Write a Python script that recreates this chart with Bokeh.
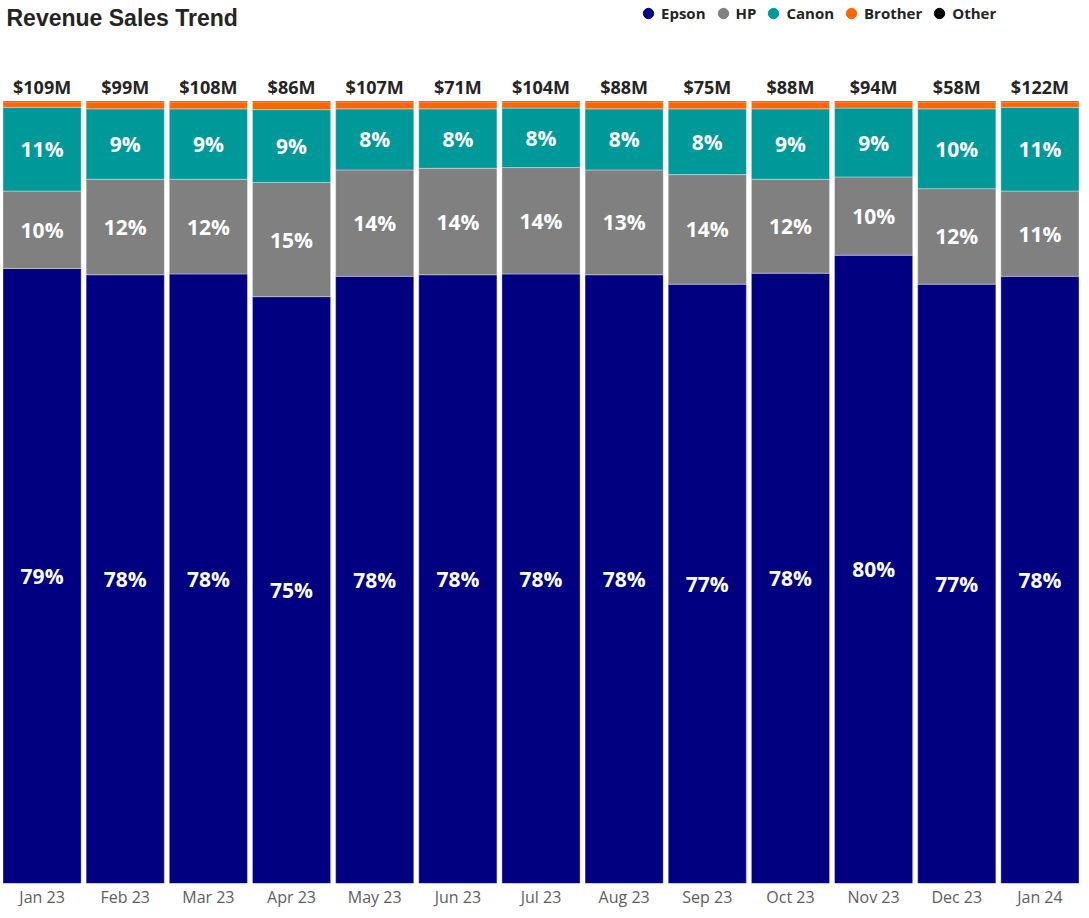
from bokeh.plotting import figure
from bokeh.models import ColumnDataSource, FactorRange, Range1d, Label, Legend, LegendItem
from bokeh.core.properties import value
from bokeh.embed import file_html
from bokeh.resources import INLINE

months = ["Jan 23", "Feb 23", "Mar 23", "Apr 23", "May 23", "Jun 23", "Jul 23",
          "Aug 23", "Sep 23", "Oct 23", "Nov 23", "Dec 23", "Jan 24"]
brands = ["Epson", "HP", "Canon", "Brother", "Other"]
epson = [78.6, 77.8, 77.9, 75.0, 77.6, 77.8, 77.9, 77.8, 76.6, 78.0, 80.3, 76.6, 77.6]
hp = [9.9, 12.2, 12.1, 14.6, 13.6, 13.6, 13.6, 13.4, 14.0, 12.0, 10.0, 12.2, 10.9]
canon = [10.7, 9.0, 9.0, 9.3, 7.8, 7.6, 7.6, 7.8, 8.4, 9.0, 8.8, 10.2, 10.7]
brother = [0.7, 0.9, 0.9, 1.0, 0.9, 0.9, 0.8, 0.9, 0.9, 0.9, 0.8, 0.9, 0.7]
other = [0.1, 0.1, 0.1, 0.1, 0.1, 0.1, 0.1, 0.1, 0.1, 0.1, 0.1, 0.1, 0.1]
totals = [109, 99, 108, 86, 107, 71, 104, 88, 75, 88, 94, 58, 122]
colors = ["#000080", "#808080", "#009999", "#FF6600", "#000000"]

W, H = 1081, 910
YEND = 112.85
p = figure(x_range=FactorRange(*months, range_padding=0), y_range=Range1d(0, YEND),
           width=W, height=H, output_backend="svg", toolbar_location=None,
           min_border_left=0, min_border_right=0, min_border_top=0, min_border_bottom=0)

src = ColumnDataSource(dict(month=months, Epson=epson, HP=hp, Canon=canon,
                            Brother=brother, Other=other))
p.vbar_stack(brands, x="month", width=0.94, color=colors, source=src,
             line_color="white", line_width=0.5, line_alpha=0.7)

# percentage labels
series = [epson, hp, canon]
lx, ly, lt = [], [], []
for i, m in enumerate(months):
    base = 0.0
    for s in series:
        lx.append(m)
        ly.append(base + s[i] / 2)
        lt.append(f"{round(s[i])}%")
        base += s[i]
p.text(x=lx, y=ly, text=lt, text_color="white", text_align="center",
       text_baseline="middle", text_font=value("Open Sans"), text_font_style="bold",
       text_font_size="21px")

# total labels
p.text(x=months, y=[101.8] * len(months), text=[f"${t}M" for t in totals],
       text_color="#252423", text_align="center", text_baseline="middle",
       text_font=value("Open Sans"), text_font_style="bold", text_font_size="18px")

# title
p.add_layout(Label(x=6, y=110.6, x_units="screen", y_units="data",
                   text="Revenue Sales Trend", text_font="Liberation Sans",
                   text_font_style="bold", text_font_size="23px", text_color="#252423",
                   text_baseline="alphabetic"))

# legend (marker renderers placed below the visible range)
items = []
for b, c in zip(brands, colors):
    r = p.scatter(x=[months[0]], y=[-50], marker="circle", size=10, color=c)
    items.append(LegendItem(label=b, renderers=[r]))
legend = Legend(items=items, orientation="horizontal", location=(635, 857),
                padding=0, margin=0, spacing=4, glyph_width=26, glyph_height=26,
                label_standoff=0, label_text_font="Open Sans", label_text_font_style="bold",
                label_text_font_size="15px", label_text_color="#252423",
                background_fill_alpha=0, border_line_alpha=0, label_height=20)
p.add_layout(legend)

p.yaxis.visible = False
p.xgrid.visible = False
p.ygrid.visible = False
p.outline_line_color = None
p.xaxis.axis_line_color = None
p.xaxis.major_tick_line_color = None
p.xaxis.minor_tick_line_color = None
p.xaxis.major_tick_out = 0
p.xaxis.major_tick_in = 0
p.xaxis.minor_tick_out = 0
p.xaxis.major_label_standoff = 2
p.xaxis.major_label_text_font = "Open Sans"
p.xaxis.major_label_text_font_size = "16px"
p.xaxis.major_label_text_color = "#605E5C"

open("out.html", "w").write(file_html(p, INLINE))
